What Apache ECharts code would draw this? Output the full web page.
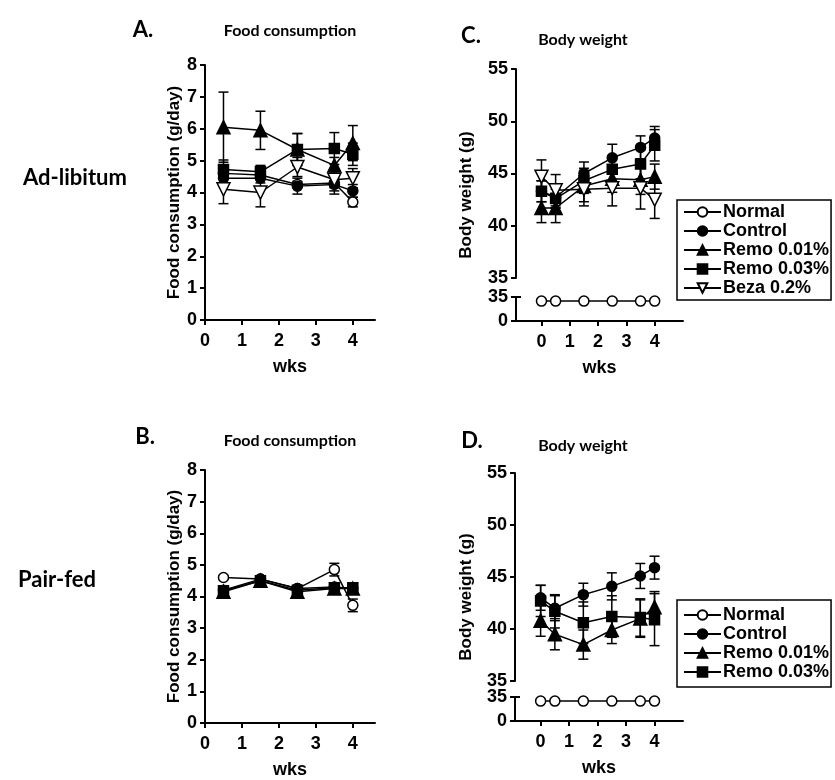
<!DOCTYPE html>
<html>
<head>
<meta charset="utf-8">
<script src="https://cdn.jsdelivr.net/npm/echarts@6/dist/echarts.min.js"></script>
<style>
  html, body { margin: 0; background: #fff; }
  #main { width: 835px; height: 780px; }
</style>
</head>
<body>
<div id="main"></div>
<script>
// groups shown in the legends
const groupsC = ['Normal', 'Control', 'Remo 0.01%', 'Remo 0.03%', 'Beza 0.2%'];
const groupsD = ['Normal', 'Control', 'Remo 0.01%', 'Remo 0.03%'];

// x positions (weeks)
const wksFood = [0.5, 1.5, 2.5, 3.5, 4];
const wksBody = [0, 0.5, 1.5, 2.5, 3.5, 4];
const xTicks = [0, 1, 2, 3, 4];

// A. food consumption, ad-libitum (g/day) + error
const foodA_normal = [4.6, 4.55, 4.25, 4.3, 3.7];
const foodA_normalErr = [0.1, 0.1, 0.1, 0.15, 0.15];
const foodA_control = [4.45, 4.45, 4.2, 4.25, 4.05];
const foodA_controlErr = [0.15, 0.15, 0.25, 0.3, 0.2];
const foodA_remo01 = [6.05, 5.95, 5.35, 4.85, 5.55];
const foodA_remo01Err = [1.1, 0.6, 0.5, 0.25, 0.55];
const foodA_remo03 = [4.72, 4.65, 5.35, 5.38, 5.2];
const foodA_remo03Err = [0.3, 0.2, 0.5, 0.5, 0.35];
const foodA_beza = [4.1, 4.0, 4.8, 4.4, 4.45];
const foodA_bezaErr = [0.45, 0.45, 0.3, 0.35, 0.3];

// B. food consumption, pair-fed
const foodB_normal = [4.6, 4.55, 4.25, 4.85, 3.72];
const foodB_normalErr = [0.05, 0.05, 0.05, 0.2, 0.2];
const foodB_control = [4.2, 4.55, 4.25, 4.3, 4.25];
const foodB_controlErr = [0.1, 0.1, 0.1, 0.1, 0.1];
const foodB_remo01 = [4.15, 4.5, 4.15, 4.25, 4.25];
const foodB_remo01Err = [0.1, 0.1, 0.1, 0.1, 0.1];
const foodB_remo03 = [4.18, 4.5, 4.2, 4.28, 4.28];
const foodB_remo03Err = [0.1, 0.1, 0.1, 0.1, 0.1];

// C. body weight, ad-libitum (g)
const bodyC_normal = [29, 29, 29, 29, 29, 29];
const bodyC_control = [43.3, 42.7, 45.0, 46.5, 47.5, 48.4];
const bodyC_controlErr = [1.0, 1.0, 1.1, 1.3, 1.1, 1.1];
const bodyC_remo01 = [41.7, 41.7, 43.8, 44.5, 44.4, 44.7];
const bodyC_remo01Err = [1.4, 1.4, 1.5, 1.3, 1.4, 1.2];
const bodyC_remo03 = [43.3, 42.6, 44.3, 45.4, 45.9, 47.7];
const bodyC_remo03Err = [1.0, 0.9, 1.2, 1.2, 1.4, 1.5];
const bodyC_beza = [44.7, 43.4, 43.5, 43.6, 43.6, 42.5];
const bodyC_bezaErr = [1.6, 1.5, 1.6, 1.7, 2.0, 1.8];

// D. body weight, pair-fed (g)
const bodyD_normal = [29, 29, 29, 29, 29, 29];
const bodyD_control = [43.0, 42.0, 43.3, 44.1, 45.1, 45.9];
const bodyD_controlErr = [1.2, 1.2, 1.1, 1.3, 1.2, 1.1];
const bodyD_remo01 = [40.8, 39.5, 38.5, 39.9, 41.0, 42.1];
const bodyD_remo01Err = [1.5, 1.5, 1.4, 1.3, 1.8, 1.5];
const bodyD_remo03 = [42.7, 41.7, 40.6, 41.2, 41.1, 40.9];
const bodyD_remo03Err = [1.5, 1.6, 2.0, 2.0, 1.8, 2.5];

const FONT = 'Liberation Sans';
const HEAD = 'Lato';

const markers = {
  'Normal': { symbol: 'circle', size: 10, fill: '#fff' },
  'Control': { symbol: 'circle', size: 10, fill: '#000' },
  'Remo 0.01%': { symbol: 'triangle', size: 13, fill: '#000' },
  'Remo 0.03%': { symbol: 'rect', size: 10, fill: '#000' },
  'Beza 0.2%': { symbol: 'path://M0,0L10,0L5,9Z', size: 13, fill: '#fff' }
};

function line(name, xs, ys, ax) {
  const m = markers[name];
  return {
    type: 'line', name: name, xAxisIndex: ax, yAxisIndex: ax,
    data: xs.map((x, i) => [x, ys[i]]),
    symbol: m.symbol, symbolSize: m.size, showAllSymbol: true,
    itemStyle: { color: m.fill, borderColor: '#000', borderWidth: 1.5, opacity: 1 },
    lineStyle: { color: '#000', width: 1.5 },
    emphasis: { disabled: true },
    animation: false, z: 4
  };
}

function errBars(name, xs, ys, es, ax) {
  return {
    type: 'custom', name: name, xAxisIndex: ax, yAxisIndex: ax,
    data: xs.map((x, i) => [x, ys[i] - es[i], ys[i] + es[i]]),
    encode: { x: 0, y: [1, 2] },
    silent: true, animation: false, z: 3,
    renderItem: function (params, api) {
      const lo = api.coord([api.value(0), api.value(1)]);
      const hi = api.coord([api.value(0), api.value(2)]);
      const w = 5;
      const st = { stroke: '#000', lineWidth: 1.5 };
      return {
        type: 'group',
        children: [
          { type: 'line', shape: { x1: lo[0], y1: lo[1], x2: hi[0], y2: hi[1] }, style: st },
          { type: 'line', shape: { x1: hi[0] - w, y1: hi[1], x2: hi[0] + w, y2: hi[1] }, style: st },
          { type: 'line', shape: { x1: lo[0] - w, y1: lo[1], x2: lo[0] + w, y2: lo[1] }, style: st }
        ]
      };
    }
  };
}

const axLine = { show: true, onZero: false, lineStyle: { color: '#000', width: 2 } };
const axTick = { show: true, length: 5, lineStyle: { color: '#000', width: 2 } };
const lbl = { color: '#000', fontFamily: FONT, fontWeight: 'bold', fontSize: 18 };

function xAx(grid, min, max, visible, name) {
  return {
    type: 'value', gridIndex: grid, min: min, max: max, show: visible,
    splitLine: { show: false }, axisLine: axLine,
    axisTick: Object.assign({ customValues: xTicks }, axTick),
    axisLabel: Object.assign({ customValues: xTicks, margin: 12 }, lbl),
    name: name, nameLocation: 'middle', nameGap: 38,
    nameTextStyle: { color: '#000', fontFamily: FONT, fontWeight: 'bold', fontSize: 18 }
  };
}

function yAx(grid, min, max, ticks, name) {
  return {
    type: 'value', gridIndex: grid, min: min, max: max,
    splitLine: { show: false }, axisLine: axLine,
    axisTick: Object.assign({ customValues: ticks }, axTick),
    axisLabel: Object.assign({ customValues: ticks, margin: 8 }, lbl),
    name: name, nameLocation: 'middle', nameGap: 22,
    nameTextStyle: { color: '#000', fontFamily: FONT, fontWeight: 'bold', fontSize: 17 }
  };
}

// inward tick at the top of the lower (broken) segment
function breakAx(grid) {
  return {
    type: 'value', gridIndex: grid, min: 0, max: 35, position: 'left',
    splitLine: { show: false }, axisLine: { show: false, onZero: false },
    axisTick: { show: true, inside: true, length: 5, customValues: [35], lineStyle: { color: '#000', width: 2 } },
    axisLabel: { show: false }
  };
}

const foodTicks = [0, 1, 2, 3, 4, 5, 6, 7, 8];
const bodyTicks = [35, 40, 45, 50, 55];
const lowTicks = [0, 35];

function txt(x, y, s, size, font, rot) {
  return {
    type: 'text', x: x, y: y, rotation: rot || 0,
    style: {
      text: s, fill: '#000', fontFamily: font, fontWeight: 'bold', fontSize: size,
      textAlign: 'center', textVerticalAlign: 'middle'
    }
  };
}

function legendAt(top, names, lh, pad) {
  return {
    orient: 'vertical', left: 677, top: top, data: names,
    itemWidth: 37, itemHeight: 12, itemGap: 1,
    borderColor: '#000', borderWidth: 1.5, padding: pad,
    textStyle: { color: '#000', fontFamily: FONT, fontWeight: 'bold', fontSize: 18, lineHeight: lh, padding: [0, 0, 0, -3] },
    selectedMode: false
  };
}

const option = {
  backgroundColor: '#fff',
  animation: false,
  grid: [
    { left: 205, top: 65, width: 170, height: 255 },
    { left: 205, top: 470, width: 170, height: 253 },
    { left: 516, top: 69, width: 167, height: 209 },
    { left: 516, top: 297, width: 167, height: 24 },
    { left: 515, top: 473, width: 168, height: 208 },
    { left: 515, top: 697, width: 168, height: 24 }
  ],
  xAxis: [
    xAx(0, 0, 4.6, true, 'wks'),
    xAx(1, 0, 4.6, true, 'wks'),
    xAx(2, -0.9, 5, false, ''),
    xAx(3, -0.9, 5, true, 'wks'),
    xAx(4, -0.9, 5, false, ''),
    xAx(5, -0.9, 5, true, 'wks')
  ],
  yAxis: [
    yAx(0, 0, 8, foodTicks, 'Food consumption (g/day)'),
    yAx(1, 0, 8, foodTicks, 'Food consumption (g/day)'),
    yAx(2, 35, 55, bodyTicks, ''),
    yAx(3, 0, 35, lowTicks, ''),
    yAx(4, 35, 55, bodyTicks, ''),
    yAx(5, 0, 35, lowTicks, ''),
    breakAx(3),
    breakAx(5)
  ],
  legend: [
    legendAt(200, groupsC, 18, [3, 2, 3, 6]),
    legendAt(600, groupsD, 17, [6, 2, 6, 6])
  ],
  graphic: [
    txt(143, 30, 'A.', 22, HEAD),
    txt(290, 31, 'Food consumption', 16, HEAD),
    txt(471, 36, 'C.', 22, HEAD),
    txt(583, 40, 'Body weight', 16, HEAD),
    txt(145, 437, 'B.', 22, HEAD),
    txt(290, 441, 'Food consumption', 16, HEAD),
    txt(472, 441, 'D.', 22, HEAD),
    txt(583, 446, 'Body weight', 16, HEAD),
    txt(75, 178, 'Ad-libitum', 22, HEAD),
    txt(57, 580, 'Pair-fed', 22, HEAD),
    txt(466, 195, 'Body weight (g)', 17, FONT, Math.PI / 2),
    txt(466, 597, 'Body weight (g)', 17, FONT, Math.PI / 2)
  ],
  series: [
    // A
    errBars('eA1', wksFood, foodA_normal, foodA_normalErr, 0),
    errBars('eA2', wksFood, foodA_control, foodA_controlErr, 0),
    errBars('eA3', wksFood, foodA_remo01, foodA_remo01Err, 0),
    errBars('eA4', wksFood, foodA_remo03, foodA_remo03Err, 0),
    errBars('eA5', wksFood, foodA_beza, foodA_bezaErr, 0),
    line('Normal', wksFood, foodA_normal, 0),
    line('Control', wksFood, foodA_control, 0),
    line('Remo 0.01%', wksFood, foodA_remo01, 0),
    line('Remo 0.03%', wksFood, foodA_remo03, 0),
    line('Beza 0.2%', wksFood, foodA_beza, 0),
    // B
    errBars('eB1', wksFood, foodB_normal, foodB_normalErr, 1),
    errBars('eB2', wksFood, foodB_control, foodB_controlErr, 1),
    errBars('eB3', wksFood, foodB_remo01, foodB_remo01Err, 1),
    errBars('eB4', wksFood, foodB_remo03, foodB_remo03Err, 1),
    line('Normal', wksFood, foodB_normal, 1),
    line('Control', wksFood, foodB_control, 1),
    line('Remo 0.01%', wksFood, foodB_remo01, 1),
    line('Remo 0.03%', wksFood, foodB_remo03, 1),
    // C
    errBars('eC2', wksBody, bodyC_control, bodyC_controlErr, 2),
    errBars('eC3', wksBody, bodyC_remo01, bodyC_remo01Err, 2),
    errBars('eC4', wksBody, bodyC_remo03, bodyC_remo03Err, 2),
    errBars('eC5', wksBody, bodyC_beza, bodyC_bezaErr, 2),
    line('Normal', wksBody, bodyC_normal, 3),
    line('Control', wksBody, bodyC_control, 2),
    line('Remo 0.01%', wksBody, bodyC_remo01, 2),
    line('Remo 0.03%', wksBody, bodyC_remo03, 2),
    line('Beza 0.2%', wksBody, bodyC_beza, 2),
    // D
    errBars('eD2', wksBody, bodyD_control, bodyD_controlErr, 4),
    errBars('eD3', wksBody, bodyD_remo01, bodyD_remo01Err, 4),
    errBars('eD4', wksBody, bodyD_remo03, bodyD_remo03Err, 4),
    line('Normal', wksBody, bodyD_normal, 5),
    line('Control', wksBody, bodyD_control, 4),
    line('Remo 0.01%', wksBody, bodyD_remo01, 4),
    line('Remo 0.03%', wksBody, bodyD_remo03, 4)
  ]
};

const chart = echarts.init(document.getElementById('main'));
chart.setOption(option);
</script>
</body>
</html>
